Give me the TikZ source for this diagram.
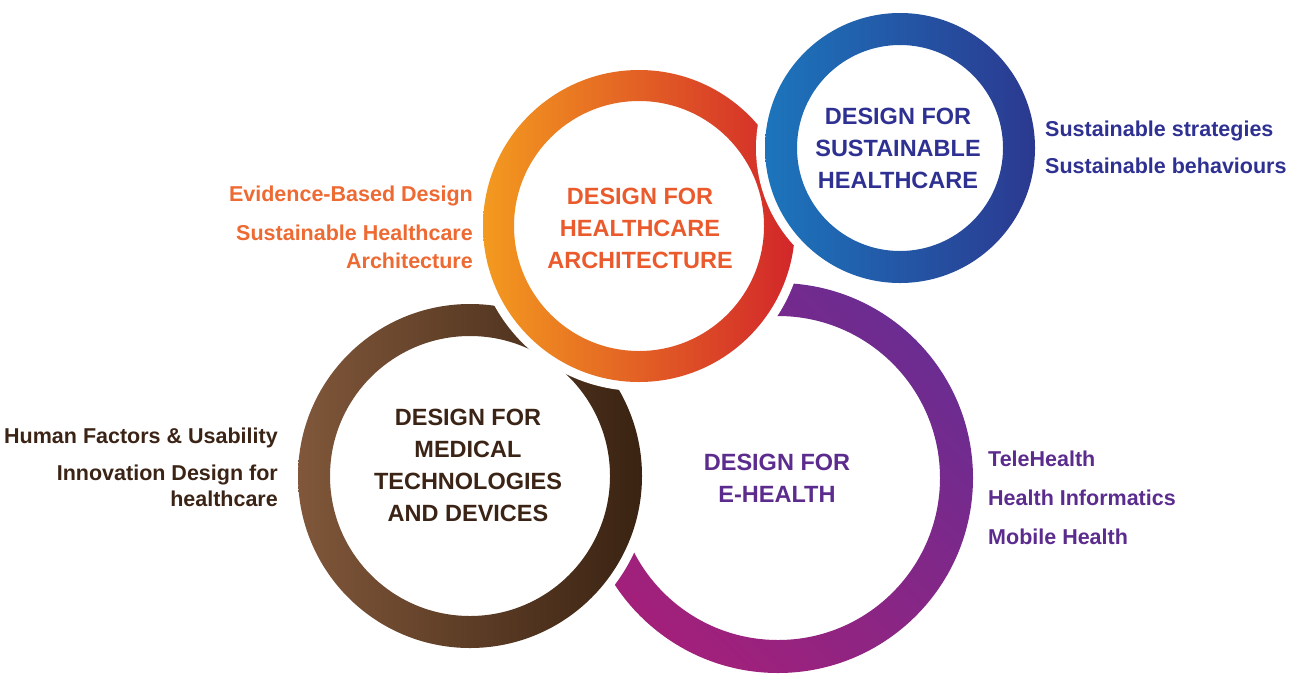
\documentclass[tikz,border=0pt]{standalone}
\usepackage{fontspec}
\setmainfont{Liberation Sans}
\definecolor{orA}{HTML}{F39A1F}
\definecolor{orB}{HTML}{D2262A}
\definecolor{orT}{HTML}{EA5A2C}
\definecolor{orS}{HTML}{EE6A33}
\definecolor{blA}{HTML}{1C75BC}
\definecolor{blB}{HTML}{2B3990}
\definecolor{blT}{HTML}{2E3192}
\definecolor{brA}{HTML}{80573A}
\definecolor{brB}{HTML}{3A2312}
\definecolor{brT}{HTML}{3B2416}
\definecolor{puA}{HTML}{A3207A}
\definecolor{puB}{HTML}{6B2C91}
\definecolor{puT}{HTML}{5B2C8E}
\newcommand\myring[5]{%
  \fill[white] (#1,#2) circle ({#3+9});
  \shade[#5,even odd rule] (#1,#2) circle (#3) (#1,#2) circle ({#3-#4});
}
\begin{document}
\begin{tikzpicture}[x=1pt,y=-1pt,
  title/.style={font=\fontsize{23.5}{32}\selectfont\bfseries, align=center, inner sep=0pt},
  side/.style={font=\fontsize{21.5}{26}\selectfont\bfseries, inner sep=0pt}]
\useasboundingbox (0,0) rectangle (1305,678);
% rings, bottom to top
\myring{778}{478}{195}{33}{bottom color=puA, top color=puB, shading angle=-45}
% open gap of the e-health ring (hidden behind the other rings)
\fill[white] (778,478) -- (734.6,231.8) -- (561.5,353) -- (536.5,542.7) -- cycle;
\myring{470}{476}{172}{32}{left color=brA, right color=brB}
\myring{639}{226}{156}{31}{left color=orA, right color=orB}
\myring{900}{148}{135}{32}{left color=blA, right color=blB}
% titles
\node[title, text=orT] (tarch) at (640,228) {DESIGN FOR\\HEALTHCARE\\ARCHITECTURE};
\node[title, text=blT] (tsust) at (898,148) {DESIGN FOR\\SUSTAINABLE\\HEALTHCARE};
\node[title, text=brT] (tmed) at (468,465) {DESIGN FOR\\MEDICAL\\TECHNOLOGIES\\AND DEVICES};
\node[title, text=puT] (tehe) at (777,478) {DESIGN FOR\\E-HEALTH};
% side labels
\node[side, text=orS, anchor=base east] (o1) at (473,201) {Evidence-Based Design};
\node[side, text=orS, anchor=base east] (o2) at (473,240) {Sustainable Healthcare};
\node[side, text=orS, anchor=base east] (o3) at (473,268) {Architecture};
\node[side, text=brT, anchor=base east] (b1) at (278,443) {Human Factors \& Usability};
\node[side, text=brT, anchor=base east] (b2) at (278,480) {Innovation Design for};
\node[side, text=brT, anchor=base east] (b3) at (278,506) {healthcare};
\node[side, text=puT, anchor=base west] (p1) at (988,466) {TeleHealth};
\node[side, text=puT, anchor=base west] (p2) at (988,505) {Health Informatics};
\node[side, text=puT, anchor=base west] (p3) at (988,544) {Mobile Health};
\node[side, text=blT, anchor=base west] (s1) at (1045,136) {Sustainable strategies};
\node[side, text=blT, anchor=base west] (s2) at (1045,173) {Sustainable behaviours};
\end{tikzpicture}
\end{document}
